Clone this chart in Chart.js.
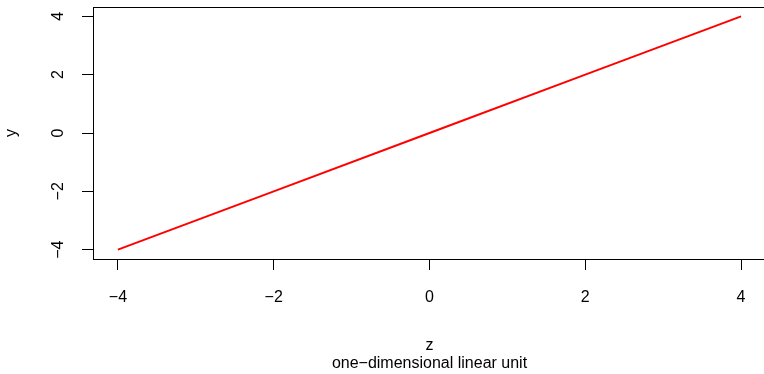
<!DOCTYPE html>
<html>
<head>
<meta charset="utf-8">
<script src="https://cdn.jsdelivr.net/npm/chart.js@4"></script>
<style>
  html, body { margin:0; padding:0; overflow:hidden; background:#fff; }
  #wrap { position:relative; width:770px; height:374px; }
</style>
</head>
<body>
<div id="wrap"><canvas id="chart"></canvas></div>
<script>
/* ===== Data ===== */
const zValues = [-4, -2, 0, 2, 4];
const yValues = [-4, -2, 0, 2, 4];
const xTicks = [-4, -2, 0, 2, 4];
const yTicks = [-4, -2, 0, 2, 4];
const xTitle = ["z", "one\u2212dimensional linear unit"];
const yTitle = "y";

const fmt = (v) => (v < 0 ? "\u2212" + Math.abs(v) : String(v));
const FONT = "'Liberation Sans', Arial, Helvetica, sans-serif";

// R style box around the plot region
const boxPlugin = {
  id: "box",
  afterDraw(chart){
    const a = chart.chartArea, ctx = chart.ctx;
    ctx.save();
    ctx.strokeStyle = "#000";
    ctx.lineWidth = 1;
    ctx.strokeRect(Math.round(a.left) + 0.5, Math.round(a.top) + 0.5,
      Math.round(a.right - a.left), Math.round(a.bottom - a.top));
    ctx.restore();
  }
};

new Chart(document.getElementById("chart"), {
  type: "scatter",
  data: {
    datasets: [{
      data: zValues.map((z, i) => ({ x: z, y: yValues[i] })),
      showLine: true,
      borderColor: "#ff0000",
      borderWidth: 2,
      pointRadius: 0,
      tension: 0
    }]
  },
  options: {
    responsive: true,
    maintainAspectRatio: false,
    animation: false,
    layout: { padding: { top: 7, right: 4, left: 0, bottom: 0 } },
    plugins: { legend: { display: false }, tooltip: { enabled: false } },
    scales: {
      x: {
        type: "linear",
        min: -4.32, max: 4.32,
        afterBuildTicks: (s) => { s.ticks = xTicks.map(v => ({ value: v })); },
        afterFit: (s) => { s.height = 115; s.paddingLeft = 0; s.paddingRight = 0; },
        border: { display: false },
        grid: { drawOnChartArea: false, drawTicks: true, tickLength: 11, tickColor: "#000", lineWidth: 1 },
        ticks: {
          color: "#000", padding: 18, maxRotation: 0, autoSkip: false,
          font: { family: FONT, size: 16 },
          callback: (v) => fmt(v)
        },
        title: {
          display: true, text: xTitle, color: "#000",
          font: { family: FONT, size: 16, lineHeight: 1.125 },
          padding: { top: 0, bottom: 1 }
        }
      },
      y: {
        type: "linear",
        min: -4.32, max: 4.32,
        afterBuildTicks: (s) => { s.ticks = yTicks.map(v => ({ value: v })); },
        afterFit: (s) => { s.width = 93; s.paddingTop = 0; s.paddingBottom = 0; },
        border: { display: false },
        grid: { drawOnChartArea: false, drawTicks: true, tickLength: 11, tickColor: "#000", lineWidth: 1 },
        ticks: {
          color: "#000", padding: 14, minRotation: 90, maxRotation: 90,
          crossAlign: "center", autoSkip: false,
          font: { family: FONT, size: 16 },
          callback: (v) => fmt(v)
        },
        title: {
          display: true, text: yTitle, color: "#000",
          font: { family: FONT, size: 16, lineHeight: 1.125 },
          padding: { top: 3, bottom: 0 }
        }
      }
    }
  },
  plugins: [boxPlugin]
});
</script>
</body>
</html>
